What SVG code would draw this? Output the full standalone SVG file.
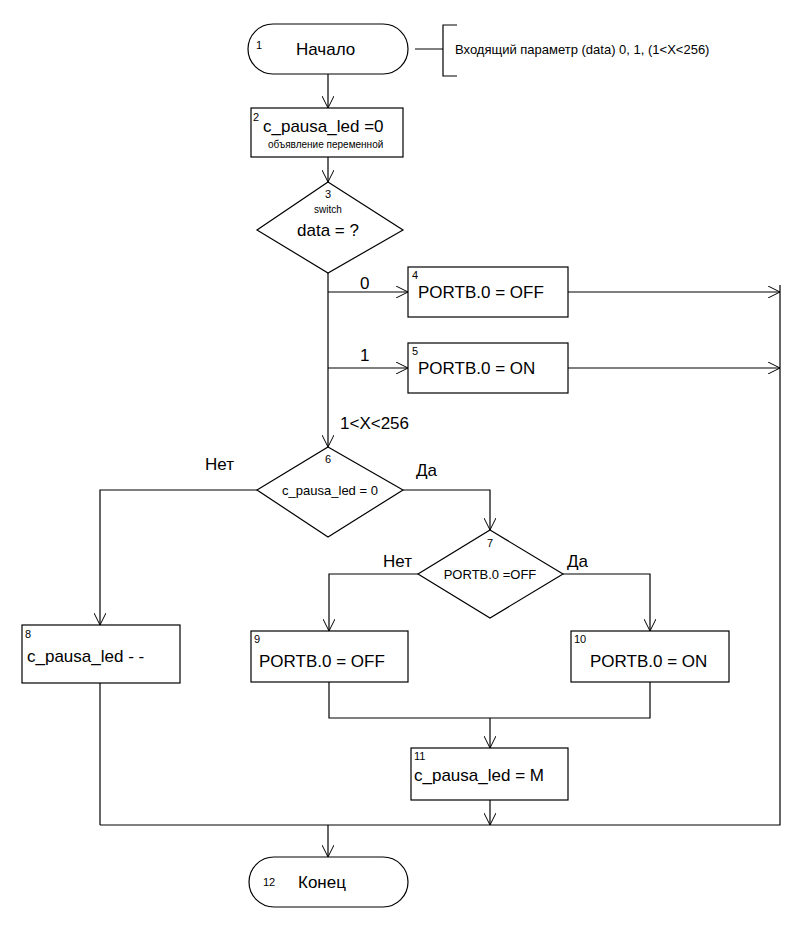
<svg xmlns="http://www.w3.org/2000/svg" width="802" height="932" viewBox="0 0 802 932">
<style>
.s{fill:#fff;stroke:#000;stroke-width:1.2}
.c{fill:none;stroke:#000;stroke-width:1.2}
text{font-family:"Liberation Sans",Arial,sans-serif;fill:#000}
.m{font-size:17px}.n{font-size:11px}.sm{font-size:10px}.l{font-size:13px}
</style>
<defs><marker id="a" viewBox="0 0 12 12" refX="12" refY="6" markerWidth="12" markerHeight="12" markerUnits="userSpaceOnUse" orient="auto"><path d="M0,0 L12,6 L0,12" fill="none" stroke="#000" stroke-width="1"/></marker></defs>
<rect width="802" height="932" fill="#fff"/>
<g id="connectors" class="c">
<path d="M328,74V108" marker-end="url(#a)"/>
<path d="M328,157V182" marker-end="url(#a)"/>
<path d="M328,273V447" marker-end="url(#a)"/>
<path d="M328,292H408" marker-end="url(#a)"/>
<path d="M328,368H408" marker-end="url(#a)"/>
<path d="M568,292H780" marker-end="url(#a)"/>
<path d="M568,368H780" marker-end="url(#a)"/>
<path d="M780,285V825H100"/>
<path d="M257,490H100V625" marker-end="url(#a)"/>
<path d="M403,490H490V530" marker-end="url(#a)"/>
<path d="M418,574H329V631" marker-end="url(#a)"/>
<path d="M563,574H650V631" marker-end="url(#a)"/>
<path d="M329,682V718H650V682"/>
<path d="M490,718V748" marker-end="url(#a)"/>
<path d="M490,800V825" marker-end="url(#a)"/>
<path d="M100,683V825"/>
<path d="M328,825V857" marker-end="url(#a)"/>
<path d="M415,49H443M457,25H443V76H457"/>
</g>
<g id="labels">
<text class="m" x="360" y="289">0</text>
<text class="m" x="360" y="361">1</text>
<text class="m" x="340" y="429">1&lt;X&lt;256</text>
<text class="m" x="205" y="470">Нет</text>
<text class="m" x="416" y="476">Да</text>
<text class="m" x="383" y="567">Нет</text>
<text class="m" x="567" y="567">Да</text>
<text class="l" x="455" y="54">Входящий параметр (data) 0, 1, (1&lt;X&lt;256)</text>
</g>
<g id="n1"><rect class="s" x="248" y="24" width="160" height="50" rx="25"/><text class="n" x="256" y="49">1</text><text class="m" x="296" y="55">Начало</text></g>
<g id="n2"><rect class="s" x="251" y="108" width="152" height="49"/><text class="n" x="253" y="121">2</text><text class="m" x="263" y="132">c_pausa_led =0</text><text class="sm" x="268" y="148">объявление переменной</text></g>
<g id="n3"><polygon class="s" points="328,182 403,230 328,273 257,230"/><text class="n" x="328" y="198" text-anchor="middle">3</text><text class="sm" x="328" y="213" text-anchor="middle">switch</text><text class="m" x="328" y="236" text-anchor="middle">data = ?</text></g>
<g id="n4"><rect class="s" x="408" y="267" width="160" height="50"/><text class="n" x="412" y="279">4</text><text class="m" x="418" y="298">PORTB.0 = OFF</text></g>
<g id="n5"><rect class="s" x="408" y="343" width="160" height="50"/><text class="n" x="412" y="355">5</text><text class="m" x="418" y="374">PORTB.0 = ON</text></g>
<g id="n6"><polygon class="s" points="328,447 403,490 328,537 257,490"/><text class="n" x="328" y="463" text-anchor="middle">6</text><text class="l" x="330" y="495" text-anchor="middle">c_pausa_led = 0</text></g>
<g id="n7"><polygon class="s" points="490,530 563,574 490,618 418,574"/><text class="n" x="490" y="547" text-anchor="middle">7</text><text class="l" x="490" y="579" text-anchor="middle">PORTB.0 =OFF</text></g>
<g id="n8"><rect class="s" x="22" y="625" width="158" height="58"/><text class="n" x="25" y="638">8</text><text class="m" x="27" y="662">c_pausa_led - -</text></g>
<g id="n9"><rect class="s" x="251" y="631" width="157" height="51"/><text class="n" x="254" y="643">9</text><text class="m" x="259" y="667">PORTB.0 = OFF</text></g>
<g id="n10"><rect class="s" x="571" y="631" width="158" height="51"/><text class="n" x="574" y="643">10</text><text class="m" x="590" y="667">PORTB.0 = ON</text></g>
<g id="n11"><rect class="s" x="411" y="748" width="157" height="52"/><text class="n" x="414" y="760">11</text><text class="m" x="414" y="781">c_pausa_led = M</text></g>
<g id="n12"><rect class="s" x="249" y="857" width="159" height="50" rx="25"/><text class="n" x="263" y="886">12</text><text class="m" x="298" y="888">Конец</text></g>
</svg>
